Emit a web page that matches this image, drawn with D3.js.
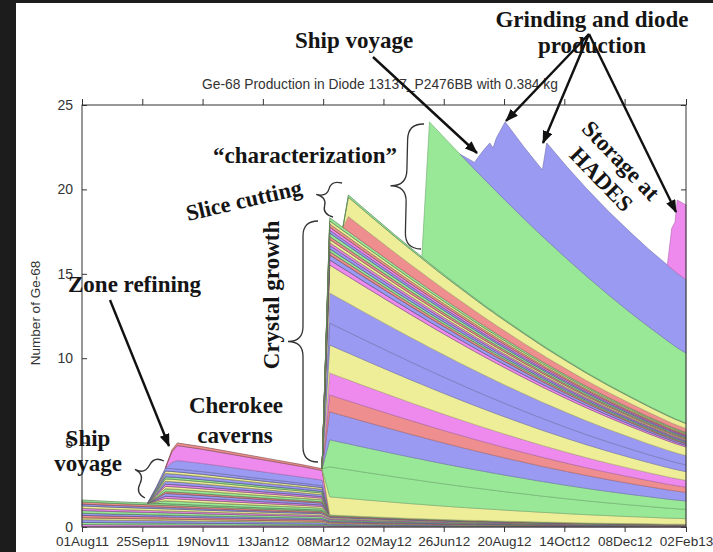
<!DOCTYPE html>
<html>
<head>
<meta charset="utf-8">
<script src="https://cdnjs.cloudflare.com/ajax/libs/d3/7.8.5/d3.min.js"></script>
<style>
  body { margin: 0; background: #1c1c1c; }
  svg { display: block; }
</style>
</head>
<body>
<svg id="chart" width="713" height="552"></svg>
<script>

// sample dates of the simulation output
var sampleDates = ["2011-08-01","2011-08-31","2011-09-30","2011-10-08","2011-10-16","2011-10-22","2011-10-27",
  "2011-11-19","2011-12-19","2012-01-18","2012-02-17","2012-03-07","2012-03-14","2012-03-26","2012-03-31",
  "2012-04-12","2012-04-27","2012-05-12","2012-05-27","2012-06-06","2012-06-13","2012-06-27","2012-07-11",
  "2012-07-24","2012-08-01","2012-08-07","2012-08-10","2012-08-13","2012-08-21","2012-09-07","2012-09-24",
  "2012-09-28","2012-10-16","2012-11-03","2012-11-23","2012-12-13","2012-12-30","2013-01-16","2013-01-20",
  "2013-01-23","2013-01-25","2013-02-02"];

// Ge-68 atoms contributed by each production step
var preExposure = [1.60,1.50,1.42,1.40,1.38,1.36,1.35,1.28,1.20,1.12,1.05,1.00,
  0.72,0.68,0.67,0.63,0.59,0.55,0.51,0.49,0.47,0.44,0.41,0.39,0.38,0.37,0.36,0.36,0.34,0.32,
  0.29,0.29,0.26,0.24,0.22,0.20,0.19,0.17,0.17,0.17,0.17,0.16];
var voyage2011 = [0,0,0,1.00,2.10,2.10,2.08,2.00,1.85,1.70,1.55,1.45,
  0,0,0,0,0,0,0,0,0,0,0,0,0,0,0,0,0,0,0,0,0,0,0,0,0,0,0,0,0,0];
var zoneRefining = [0,0,0,0,0,1.10,1.55,1.47,1.35,1.23,1.10,1.00,
  0,0,0,0,0,0,0,0,0,0,0,0,0,0,0,0,0,0,0,0,0,0,0,0,0,0,0,0,0,0];
var crystalGrowth = [0,0,0,0,0,0,0,0,0,0,0,0,
  17.60,17.07,16.85,16.32,15.66,15.00,14.35,13.92,13.62,13.03,12.45,11.91,11.58,11.34,11.23,11.10,
  10.80,10.14,9.51,9.36,8.73,8.11,7.46,6.85,6.34,5.87,5.76,5.68,5.63,5.45];
var sliceCutting = [0,0,0,0,0,0,0,0,0,0,0,0,0,0,
  2.15,2.04,1.91,1.78,1.67,1.60,1.55,1.45,1.37,1.29,1.24,1.21,1.20,1.18,1.14,1.06,0.98,0.96,
  0.89,0.82,0.75,0.69,0.64,0.59,0.58,0.57,0.57,0.55];
var characterization = [0,0,0,0,0,0,0,0,0,0,0,0,0,0,0,0,0,0,0,0,
  8.36,8.11,7.85,7.61,7.47,7.35,7.29,7.24,7.08,6.76,6.44,6.37,6.03,5.70,5.34,4.97,4.69,4.41,
  4.34,4.29,4.25,4.14];
var voyage2012 = [0,0,0,0,0,0,0,0,0,0,0,0,0,0,0,0,0,0,0,0,0,0,0,
  0.40,1.63,2.48,2.37,3.16,4.64,4.25,3.93,5.77,5.46,5.20,4.95,4.76,4.60,4.48,4.45,4.43,4.41,4.35];
var hadesStorage = [0,0,0,0,0,0,0,0,0,0,0,0,0,0,0,0,0,0,0,0,0,0,0,0,0,0,0,0,0,0,0,0,0,0,0,0,0,0,
  2.40,2.93,4.34,4.43];

// how each step splits into the coloured bands (bottom to top)
var preSplit = [0.09,0.08,0.10,0.07,0.09,0.08,0.10,0.08,0.09,0.07,0.08,0.07];
var preColors = ["pink","green","blue","yellow","salmon","blue","green","pink","yellow","blue","salmon","green"];
var voyage2011Split = [0.08,0.07,0.06,0.08,0.05,0.08,0.07,0.06,0.08,0.07,0.06,0.09,0.07,0.08];
var voyage2011Colors = ["green","yellow","pink","blue","salmon","green","yellow","pink","blue","yellow","green","blue","yellow","blue"];
var zoneSplit = [0.33,0.57,0.10];
var zoneColors = ["blue","pink","salmon"];
var crystalSplit = [1.07,1.78,1.60,1.66,1.00,1.30,1.66,1.30,1.78,1.66,0.30,0.30,
  0.19,0.17,0.20,0.16,0.19,0.18,0.20,0.17,0.18,0.19,0.18,0.19];
var crystalColors = ["yellow","green","green","blue","salmon","pink","yellow","blue","blue","yellow","pink","blue",
  "salmon","green","blue","pink","yellow","salmon","green","blue","pink","salmon","yellow","green"];
var sliceSplit = [1.0,1.3,0.15];
var sliceColors = ["salmon","yellow","green"];

var xTickLabels = ["01Aug11","25Sep11","19Nov11","13Jan12","08Mar12","02May12","26Jun12","20Aug12","14Oct12","08Dec12","02Feb13"];
var yTickValues = [0,5,10,15,20,25];

var palette = {green: "#98e898", blue: "#9a9af2", yellow: "#eeee98", pink: "#ee8aee", salmon: "#ee8e8e"};

var groups = [
  {id: "pre", values: preExposure, split: preSplit, colors: preColors},
  {id: "voy11", values: voyage2011, split: voyage2011Split, colors: voyage2011Colors},
  {id: "zone", values: zoneRefining, split: zoneSplit, colors: zoneColors},
  {id: "cry", values: crystalGrowth, split: crystalSplit, colors: crystalColors},
  {id: "slice", values: sliceCutting, split: sliceSplit, colors: sliceColors},
  {id: "char", values: characterization, split: [1], colors: ["green"]},
  {id: "voy12", values: voyage2012, split: [1], colors: ["blue"]},
  {id: "hades", values: hadesStorage, split: [1], colors: ["pink"]}
];

groups.forEach(function(g){
  if (g.values.length !== sampleDates.length) throw new Error(g.id + " has " + g.values.length + " values");
  if (g.split.length !== g.colors.length) throw new Error(g.id + " split/colour mismatch");
});

var parseDay = d3.timeParse("%Y-%m-%d");
var parseTick = d3.timeParse("%d%b%y");

// build the table for d3.stack
var keys = [], layerInfo = {};
groups.forEach(function(g){
  var total = d3.sum(g.split);
  g.split.forEach(function(w, k){
    var key = g.id + k;
    keys.push(key);
    // thin bands read darker because their outlines dominate
    var thin = (w / total) * d3.max(g.values) < 0.3;
    layerInfo[key] = {group: g, share: w / total, color: palette[g.colors[k]], thin: thin};
  });
});

var rows = sampleDates.map(function(s, i){
  var row = {date: parseDay(s)};
  keys.forEach(function(key){
    row[key] = layerInfo[key].group.values[i] * layerInfo[key].share;
  });
  return row;
});

var series = d3.stack().keys(keys)(rows);

var plotLeft = 82, plotRight = 686, plotTop = 105, plotBottom = 527;

var x = d3.scaleTime()
  .domain([parseTick(xTickLabels[0]), parseTick(xTickLabels[xTickLabels.length - 1])])
  .range([plotLeft, plotRight]);
var y = d3.scaleLinear().domain([0, 25]).range([plotBottom, plotTop]);

var svg = d3.select("#chart");

svg.append("rect").attr("width", 713).attr("height", 552).attr("fill", "#1c1c1c");
svg.append("rect").attr("x", 16).attr("y", 3).attr("width", 697).attr("height", 549).attr("fill", "#ffffff");

// y ticks point inward, the areas cover them
var yAxis = svg.append("g")
  .attr("transform", "translate(" + plotLeft + ",0)")
  .call(d3.axisLeft(y).tickValues(yTickValues).tickSize(-5).tickPadding(9));
yAxis.select(".domain").remove();
yAxis.selectAll("text").style("font-family", "'Liberation Sans', Arial, sans-serif").style("font-size", "14px").attr("fill", "#333");
yAxis.selectAll("line").attr("stroke", "#333");

var yRight = svg.append("g")
  .attr("transform", "translate(" + plotRight + ",0)")
  .call(d3.axisRight(y).tickValues(yTickValues).tickSize(-5).tickFormat(""));
yRight.select(".domain").remove();
yRight.selectAll("line").attr("stroke", "#333");

// stacked areas, one per coloured band
var area = d3.area()
  .x(function(d){ return x(d.data.date); })
  .y0(function(d){ return y(d[0]); })
  .y1(function(d){ return y(d[1]); });

svg.append("g")
  .selectAll("path")
  .data(series)
  .enter().append("path")
  .attr("d", function(s){
    var vals = layerInfo[s.key].group.values;
    // only draw where the step contributes, so empty bands leave no outline
    var active = vals.map(function(v, i){
      return v > 0 || (i > 0 && vals[i - 1] > 0) || (i < vals.length - 1 && vals[i + 1] > 0);
    });
    return area.defined(function(d, i){ return active[i]; })(s);
  })
  .attr("fill", function(s){ return layerInfo[s.key].color; })
  .attr("stroke", function(s){
    var info = layerInfo[s.key];
    return d3.color(info.color).darker(info.thin ? 1.6 : 0.9);
  })
  .attr("stroke-width", function(s){ return layerInfo[s.key].thin ? 0.7 : 0.6; })
  .attr("stroke-linejoin", "round");

// frame
svg.append("rect")
  .attr("x", plotLeft).attr("y", plotTop)
  .attr("width", plotRight - plotLeft).attr("height", plotBottom - plotTop)
  .attr("fill", "none").attr("stroke", "#333").attr("stroke-width", 1);

var tickDates = xTickLabels.map(parseTick);

var xAxis = svg.append("g")
  .attr("transform", "translate(0," + plotBottom + ")")
  .call(d3.axisBottom(x).tickValues(tickDates).tickSize(5).tickPadding(4).tickFormat(d3.timeFormat("%d%b%y")));
xAxis.select(".domain").remove();
xAxis.selectAll("text").style("font-family", "'Liberation Sans', Arial, sans-serif").style("font-size", "13.5px").attr("fill", "#333");
xAxis.selectAll("line").attr("stroke", "#333");

var xTop = svg.append("g")
  .attr("transform", "translate(0," + plotTop + ")")
  .call(d3.axisTop(x).tickValues(tickDates).tickSize(6).tickFormat(""));
xTop.select(".domain").remove();
xTop.selectAll("line").attr("stroke", "#333");

svg.append("text")
  .attr("x", 380).attr("y", 89)
  .attr("text-anchor", "middle")
  .style("font-family", "'Liberation Sans', Arial, sans-serif").style("font-size", "13.8px")
  .attr("fill", "#333")
  .text("Ge-68 Production in Diode 13137_P2476BB with 0.384 kg");

svg.append("text")
  .attr("transform", "translate(40,313) rotate(-90)")
  .attr("text-anchor", "middle")
  .style("font-family", "'Liberation Sans', Arial, sans-serif").style("font-size", "13.5px")
  .attr("fill", "#333")
  .text("Number of Ge-68");

// annotations
var notes = svg.append("g");

notes.append("defs").append("marker")
  .attr("id", "head")
  .attr("viewBox", "0 0 13 10")
  .attr("refX", 12).attr("refY", 5)
  .attr("markerWidth", 13).attr("markerHeight", 10)
  .attr("markerUnits", "userSpaceOnUse")
  .attr("orient", "auto")
  .append("path").attr("d", "M0,0 L13,5 L0,10 z").attr("fill", "#111");

function bracePath(len, w){
  var ra = Math.min(Math.abs(w) / 2, len / 4);
  var h = w / 2, m = len / 2;
  return "M0,0 Q0," + h + " " + ra + "," + h +
    " L" + (m - ra) + "," + h + " Q" + m + "," + h + " " + m + "," + w +
    " Q" + m + "," + h + " " + (m + ra) + "," + h +
    " L" + (len - ra) + "," + h + " Q" + len + "," + h + " " + len + ",0";
}

function drawBrace(x1, y1, x2, y2, w){
  var len = Math.hypot(x2 - x1, y2 - y1);
  var ang = Math.atan2(y2 - y1, x2 - x1) * 180 / Math.PI;
  notes.append("path")
    .attr("d", bracePath(len, w))
    .attr("transform", "translate(" + x1 + "," + y1 + ") rotate(" + ang + ")")
    .attr("fill", "none").attr("stroke", "#333").attr("stroke-width", 1.3);
}

drawBrace(145, 498, 164, 461, -22);
drawBrace(318, 221, 318, 462, 30);
drawBrace(342, 183, 333, 217, 22);
drawBrace(424, 124, 421, 249, 32);

var arrows = [
  [110, 300, 169, 446],
  [373, 57, 477, 153],
  [589, 34, 506, 121],
  [589, 34, 543, 143],
  [589, 34, 676, 212]
];
notes.selectAll(".arrow")
  .data(arrows)
  .enter().append("line")
  .attr("class", "arrow")
  .attr("x1", function(d){ return d[0]; }).attr("y1", function(d){ return d[1]; })
  .attr("x2", function(d){ return d[2]; }).attr("y2", function(d){ return d[3]; })
  .attr("stroke", "#111").attr("stroke-width", 2.4)
  .attr("marker-end", "url(#head)");

function label(txt, x0, y0, anchor, size, transform){
  var t = notes.append("text")
    .attr("text-anchor", anchor || "start")
    .style("font-family", "'Liberation Serif', 'Times New Roman', serif")
    .style("font-weight", "bold")
    .style("font-size", (size || 23) + "px")
    .attr("fill", "#151515")
    .attr("x", x0).attr("y", y0)
    .text(txt);
  if (transform) t.attr("transform", transform);
  return t;
}

label("Ship voyage", 295, 48);
label("Grinding and diode", 592, 27, "middle");
label("production", 592, 53, "middle");
label("\u201Ccharacterization\u201D", 213, 163, "start", 23);
label("Slice cutting", 0, 0, "start", 22.5, "translate(188,221) rotate(-13)");
label("Crystal growth", 0, 0, "middle", 23, "translate(279,295) rotate(-90)");
label("Zone refining", 68, 292);
label("Cherokee", 236, 413, "middle");
label("caverns", 235, 443, "middle");
label("Ship", 88, 446, "middle");
label("voyage", 88, 471, "middle");
label("Storage at", 0, -6, "middle", 23, "translate(611,170) rotate(46)");
label("HADES", 0, 21, "middle", 23, "translate(611,170) rotate(46)");

</script>
</body>
</html>
